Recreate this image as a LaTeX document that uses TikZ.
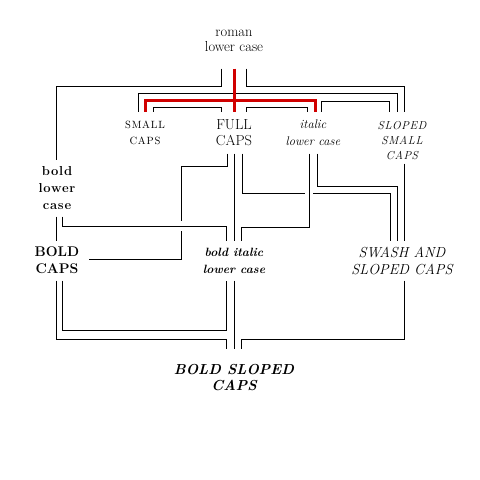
\documentclass[tikz,border=0pt]{standalone}
\usepackage{fontspec}
\setmainfont{Latin Modern Roman}
\definecolor{redline}{RGB}{208,0,0}
\begin{document}
\begin{tikzpicture}[x=1pt,y=-1pt, line width=1pt, line join=miter, line cap=butt,
  lbl/.style={inner sep=0pt, align=center, minimum width=60pt},
  redpath/.style={draw=redline, line width=3pt}]
\useasboundingbox (0,0) rectangle (480,480);
% nodes
\node[lbl, minimum height=54pt, font=\fontsize{14.5}{15}\selectfont] (rom) at (234,41) {roman\\lower case};
\node[lbl, minimum height=41pt, font=\fontsize{10.5}{16}\selectfont\addfontfeatures{LetterSpace=8}] (sc) at (145,132.5) {SMALL\\CAPS};
\node[lbl, minimum height=41pt, font=\fontsize{14.5}{16}\selectfont] (fc) at (234,132.5) {FULL\\CAPS};
\node[lbl, minimum height=41pt, font=\fontsize{12.5}{17}\selectfont\itshape] (il) at (313,132.5) {italic\\lower case};
\node[lbl, minimum height=58pt, font=\fontsize{11.5}{15}\selectfont\itshape\addfontfeatures{LetterSpace=5}] (ssc) at (402,141) {SLOPED\\SMALL\\CAPS};
\node[lbl, minimum height=56pt, font=\fontsize{13}{17}\selectfont\bfseries\addfontfeatures{LetterSpace=6}] (blc) at (57,188) {bold\\lower\\case};
\node[lbl, minimum height=39pt, minimum width=62pt, font=\fontsize{14}{17}\selectfont\bfseries] (bc) at (57,260.5) {BOLD\\CAPS};
\node[lbl, minimum height=39pt, font=\fontsize{12}{17}\selectfont\bfseries\itshape] (bi) at (234,260.5) {bold italic\\lower case};
\node[lbl, minimum height=39pt, font=\fontsize{14.5}{17}\selectfont\itshape] (sw) at (402,260.5) {SWASH AND\\SLOPED CAPS};
\node[lbl, minimum height=58pt, font=\fontsize{14.5}{16}\selectfont\bfseries\itshape] (bs) at (234,378) {BOLD SLOPED\\CAPS};
% top connectors
\draw (221,0 |- rom.south) |- (56,86) -- (56,0 |- blc.north);
\draw (246,0 |- rom.south) |- (404,86) -- (404,0 |- ssc.north);
\draw (138,0 |- sc.north) |- (397,93) -- (397,0 |- ssc.north);
\draw (153,0 |- sc.north) |- (221,107) -- (221,0 |- fc.north);
\draw (246,0 |- fc.north) |- (307,107) -- (307,0 |- il.north);
\draw (321,0 |- il.north) |- (389,101) -- (389,0 |- ssc.north);
\draw[redpath] (234,0 |- rom.south) -- (234,0 |- fc.north);
\draw[redpath] (145,0 |- sc.north) |- (315,100) -- (315,0 |- il.north);
% middle connectors
\draw (227,0 |- fc.south) |- (181,166) -- (181,221);
\draw (181,231) |- (bc.east |- 0,259);
\draw (fc.south) -- (bi.north);
\draw (242,0 |- fc.south) |- (305,193);
\draw (313,193) -| (390,0 |- sw.north);
\draw (309,0 |- il.south) |- (241,227) -- (241,0 |- bi.north);
\draw (317,0 |- il.south) |- (397,186) -- (397,0 |- sw.north);
\draw ([xshift=2pt,yshift=7pt]ssc.south) -- (404,0 |- sw.north);
\draw (56,0 |- blc.south) -- (56,0 |- bc.north);
\draw (62,0 |- blc.south) |- (226,226) -- (226,0 |- bi.north);
% bottom connectors
\draw (56,0 |- bc.south) |- (226,339) -- (226,0 |- bs.north);
\draw (62,0 |- bc.south) |- (226,330) -- (226,0 |- bi.south);
\draw (bi.south) -- (bs.north);
\draw (404,0 |- sw.south) |- (241,339) -- (241,0 |- bs.north);
\end{tikzpicture}
\end{document}
